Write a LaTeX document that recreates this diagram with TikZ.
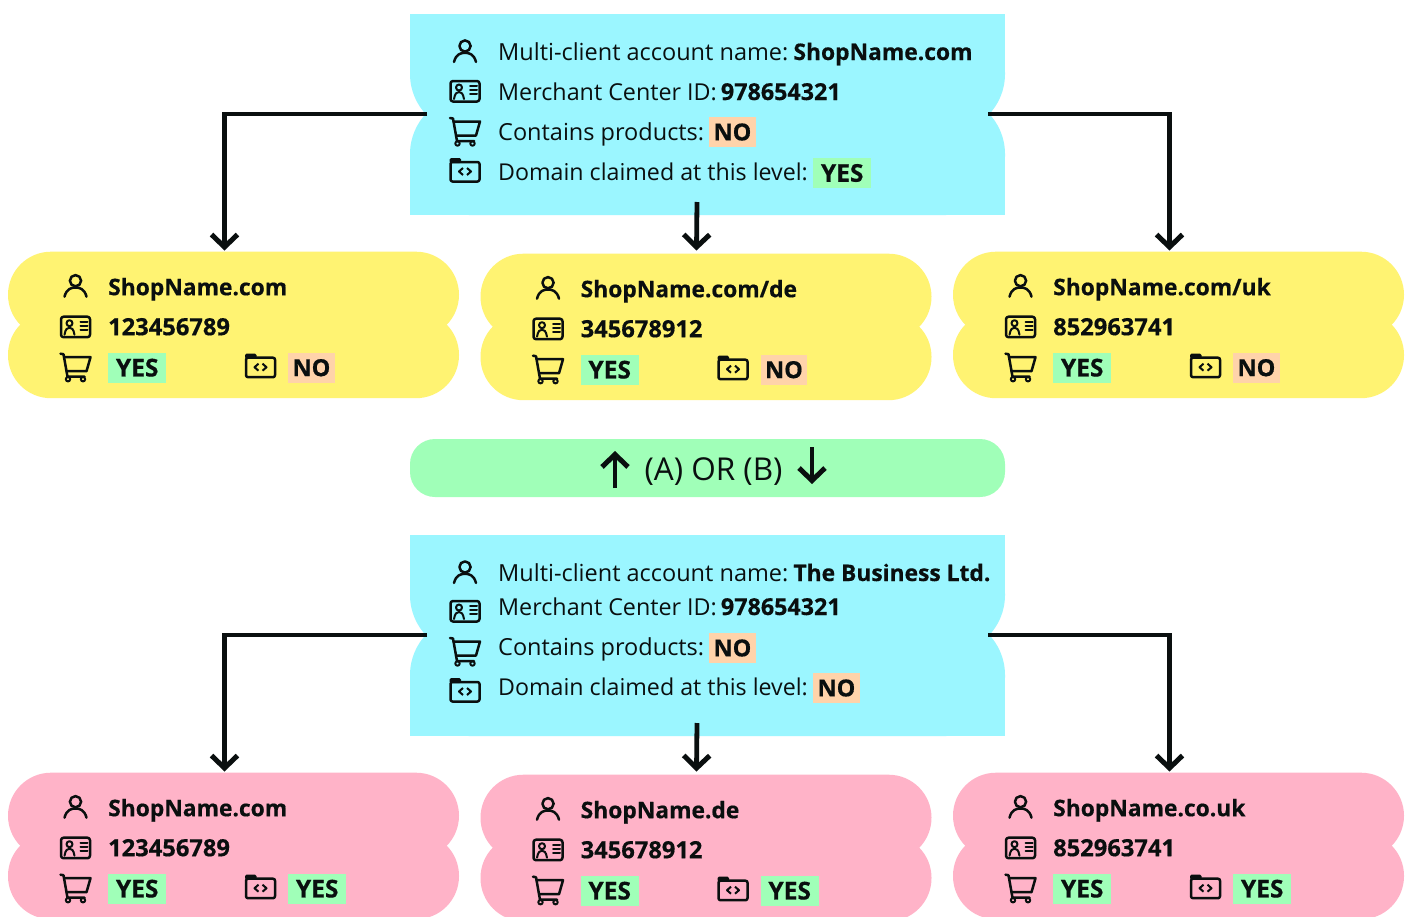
\documentclass[tikz,border=0pt]{standalone}
\usepackage{fontspec}
\setmainfont[BoldFeatures={FakeBold=0.5}]{Open Sans}
\usetikzlibrary{arrows.meta,positioning}
\definecolor{cblue}{HTML}{9BF6FF}
\definecolor{cyellow}{HTML}{FFF372}
\definecolor{cpink}{HTML}{FFB3C8}
\definecolor{cgreen}{HTML}{A0FFB8}
\definecolor{corange}{HTML}{FFD3AA}
\definecolor{cink}{HTML}{0A0F0F}
\newcommand{\nameb}[1]{{\fontsize{22.8}{28}\selectfont\bfseries #1}}
\tikzset{
  txt/.style={anchor=base west,inner sep=0pt,text=cink,font=\fontsize{23.5}{28}\selectfont},
  mtxt/.style={txt,font=\fontsize{23.3}{28}\selectfont},
  btxt/.style={txt,font=\fontsize{23.7}{28}\selectfont\bfseries},
  tagyes/.style={anchor=west,fill=cgreen,inner sep=0pt,minimum width=58pt,minimum height=30pt,text=cink,font=\fontsize{24.5}{28}\selectfont\bfseries},
  tagno/.style={anchor=west,fill=corange,inner sep=0pt,minimum width=46.5pt,minimum height=30pt,text=cink,font=\fontsize{23.5}{28}\selectfont\bfseries},
  ico/.style={draw=cink,line width=2.5pt,line cap=round,line join=round},
  conn/.style={draw=cink,line width=4.8pt,-{Straight Barb[length=12.5pt,width=26pt,line width=5pt]},line join=miter},
  area/.style={inner sep=0pt,draw=none,fill=none}
}
% icons: centre x, centre y
\newcommand{\icoperson}[2]{\begin{scope}[shift={(#1,#2)}]
  \draw[ico] (0,-5) circle (5.6pt);
  \draw[ico] (-11,11) .. controls (-9,3) and (-4,1.8) .. (0,1.8) .. controls (4,1.8) and (9,3) .. (11,11);
\end{scope}}
\newcommand{\icoid}[2]{\begin{scope}[shift={(#1,#2)}]
  \draw[ico,rounded corners=2.5pt] (-14.5,-10) rectangle (14.5,10.5);
  \draw[ico,line width=2pt] (-6,-3.5) circle (3pt);
  \draw[ico,line width=2pt] (-11,8) .. controls (-10,2) and (-8,1) .. (-6,1) .. controls (-4,1) and (-2,2) .. (-1,8);
  \draw[ico,line width=2pt] (5,-5) -- (12,-5) (5,-1) -- (12,-1) (5,3) -- (12,3);
\end{scope}}
\newcommand{\icocart}[2]{\begin{scope}[shift={(#1,#2)}]
  \draw[ico] (-15,-13) -- (-12,-12.5) -- (-8,10) -- (9,10);
  \draw[ico] (-11.5,-9.5) -- (15,-9.5) -- (11,4.5) -- (-9,4.5);
  \draw[ico,line width=2pt] (-7.5,12.5) circle (2.2pt) (7.5,12.5) circle (2.2pt);
\end{scope}}
\newcommand{\icofolder}[2]{\begin{scope}[shift={(#1,#2)}]
  \draw[ico,rounded corners=2pt] (-14.5,-9) rectangle (14.5,10.5);
  \fill[cink,rounded corners=1.5pt] (-15.5,-13) rectangle (-4,-8);
  \draw[ico,line width=2pt,line cap=butt] (-2,-3) -- (-6,0.5) -- (-2,4) (2,-3) -- (6,0.5) -- (2,4);
\end{scope}}
% child box: name, left x, top y, colour, title, id, second tag style, second tag text
\newcommand{\childbox}[8]{%
  \fill[#4,rounded corners=43pt] (#2,#3) rectangle ++(451,86);
  \fill[#4,rounded corners=43pt] (#2,#3+60) rectangle ++(451,86.5);
  \node[area,minimum width=451pt,minimum height=146pt] (#1) at (#2+225.5,#3+73) {};
  \icoperson{#2+67.5}{#3+34}
  \icoid{#2+67.5}{#3+75}
  \icocart{#2+67.5}{#3+115}
  \icofolder{#2+252.5}{#3+115}
  \node[txt] (#1t) at (#2+100,#3+43.5) {\nameb{#5}};
  \node[btxt] (#1i) at (#2+100,#3+83.5) {#6};
  \node[tagyes] (#1a) at (#2+100,#3+116) {YES};
  \node[#7] (#1b) at (#2+280,#3+116) {#8};
}
\newcommand{\acctbox}[2]{%
  \fill[cblue] (410,#2) rectangle (1005,#2+60);
  \fill[cblue,rounded corners=59pt] (410,#2) rectangle (1005,#2+119);
  \fill[cblue,rounded corners=59pt] (410,#2+81) rectangle (1005,#2+201);
  \fill[cblue] (410,#2+141) rectangle (1005,#2+201);
  \node[area,minimum width=595pt,minimum height=201pt] (#1) at (707.5,#2+100.5) {};
  \coordinate (#1L) at (427,#2+100);
  \coordinate (#1R) at (988,#2+100);
  \coordinate (#1M) at (697,#2+188);
}
\begin{document}
\begin{tikzpicture}[x=1pt,y=-1pt]
\path[use as bounding box,clip] (0,0) rectangle (1408,916);
\fill[white] (0,0) rectangle (1408,916);

% ---------- upper group
\acctbox{acctA}{14}
\icoperson{465}{51}\icoid{465}{91}\icocart{465}{131}\icofolder{465}{171}
\node[txt] (a1) at (498,60) {Multi-client account name:\hspace{-3pt} \nameb{ShopName.com}};
\node[mtxt] (a2) at (498,100) {Merchant Center ID:\hspace{-2pt} \textbf{978654321}};
\node[txt] (a3) at (498,140) {Contains products:};
\node[tagno] (a3t) at (709,132) {NO};
\node[txt,font=\fontsize{23.2}{28}\selectfont] (a4) at (498,180) {Domain claimed at this level:};
\node[tagyes] (a4t) at (813,173) {YES};

\childbox{y1}{8}{251.7}{cyellow}{ShopName.com}{123456789}{tagno}{NO}
\childbox{y2}{480.5}{253.7}{cyellow}{ShopName.com/de}{345678912}{tagno}{NO}
\childbox{y3}{953}{251.7}{cyellow}{ShopName.com/uk}{852963741}{tagno}{NO}

\draw[conn] (acctAL) -| ([xshift=-9pt,yshift=1pt]y1.north);
\draw[conn] (acctAM) -- ([xshift=-9.5pt,yshift=3pt]y2.north);
\draw[conn] (acctAR) -| ([xshift=-9pt,yshift=1pt]y3.north);

% ---------- middle pill
\fill[cgreen,rounded corners=25pt] (410,439) rectangle (1005,497);
\node[area,minimum width=595pt,minimum height=58pt] (pill) at (707.5,468) {};
\node[anchor=base,inner sep=0pt,text=cink,font=\fontsize{31.5}{36}\selectfont] (ab) at (713.5,480) {(A) OR (B)};
\coordinate (upS) at (615,488);\coordinate (upE) at (615,451);
\coordinate (dnS) at (812,447);\coordinate (dnE) at (812,484);
\draw[conn] (upS) -- (upE);
\draw[conn] (dnS) -- (dnE);

% ---------- lower group
\acctbox{acctB}{535}
\icoperson{465}{572}\icoid{465}{611}\icocart{465}{651}\icofolder{465}{691}
\node[txt] (b1) at (498,581) {Multi-client account name:\hspace{-3pt} \nameb{The Business Ltd.}};
\node[mtxt] (b2) at (498,615) {Merchant Center ID:\hspace{-2pt} \textbf{978654321}};
\node[txt] (b3) at (498,655) {Contains products:};
\node[tagno] (b3t) at (709,648) {NO};
\node[txt,font=\fontsize{23.2}{28}\selectfont] (b4) at (498,695) {Domain claimed at this level:};
\node[tagno] (b4t) at (813,688) {NO};

\childbox{p1}{8}{772.7}{cpink}{ShopName.com}{123456789}{tagyes}{YES}
\childbox{p2}{480.5}{774.7}{cpink}{ShopName.de}{345678912}{tagyes}{YES}
\childbox{p3}{953}{772.7}{cpink}{ShopName.co.uk}{852963741}{tagyes}{YES}

\draw[conn] (acctBL) -| ([xshift=-9pt,yshift=1pt]p1.north);
\draw[conn] (acctBM) -- ([xshift=-9.5pt,yshift=3pt]p2.north);
\draw[conn] (acctBR) -| ([xshift=-9pt,yshift=1pt]p3.north);
\end{tikzpicture}
\end{document}
